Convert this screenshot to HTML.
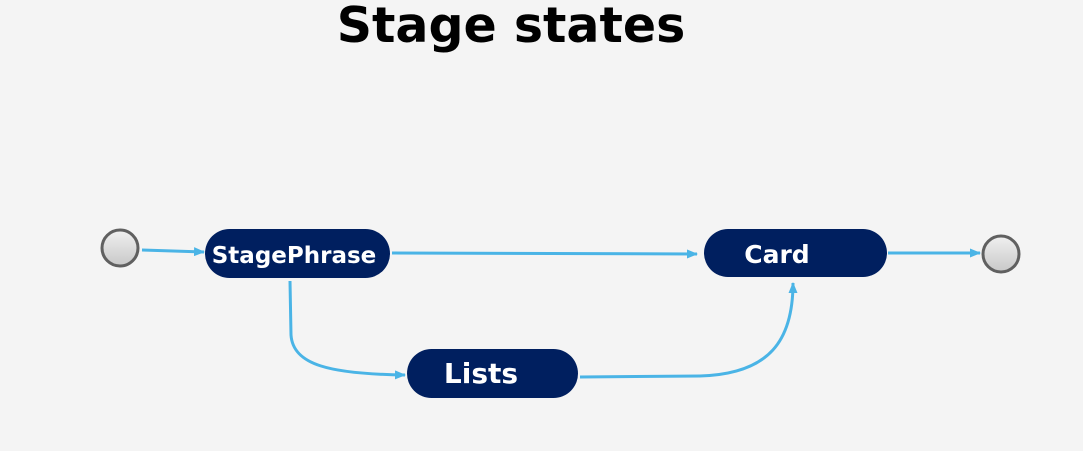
<!DOCTYPE html>
<html><head><style>
html,body{margin:0;padding:0;background:#f4f4f4;}
svg{display:block;}
</style></head><body>
<svg width="1083" height="451" viewBox="0 0 1083 451" xmlns="http://www.w3.org/2000/svg">
<defs>
<linearGradient id="g" x1="0" y1="0" x2="0" y2="1"><stop offset="0" stop-color="#f0f0f0"/><stop offset="1" stop-color="#c8c8c8"/></linearGradient>
<marker id="a" markerWidth="11" markerHeight="9" refX="10" refY="4.5" orient="auto" markerUnits="userSpaceOnUse"><path d="M0,0 L11,4.5 L0,9 Z" fill="#4ab4e6"/></marker>
</defs>
<rect width="1083" height="451" fill="#f4f4f4"/>
<text x="511" y="42" text-anchor="middle" font-family="DejaVu Sans, sans-serif" font-weight="bold" font-size="49" fill="#000">Stage states</text>
<g stroke="#4ab4e6" stroke-width="3" fill="none">
<path d="M142,250 L204,252" marker-end="url(#a)"/>
<path d="M392,253 L697,254" marker-end="url(#a)"/>
<path d="M888,253 L980,253" marker-end="url(#a)"/>
<path d="M290,281 L291,335 C293,365 330,374 405,375" marker-end="url(#a)"/>
<path d="M580,377 L700,376 C770,374 793,340 793,283" marker-end="url(#a)"/>
</g>
<circle cx="120" cy="248" r="18" fill="url(#g)" stroke="#606060" stroke-width="3"/>
<circle cx="1001" cy="254" r="18" fill="url(#g)" stroke="#606060" stroke-width="3"/>
<rect x="205" y="229" width="185" height="49" rx="24.5" fill="#001f5f"/>
<rect x="704" y="229" width="183" height="48" rx="24" fill="#001f5f"/>
<rect x="407" y="349" width="171" height="49" rx="24.5" fill="#001f5f"/>
<g font-family="DejaVu Sans, sans-serif" font-weight="bold" fill="#fff" text-anchor="middle">
<text x="294" y="263" font-size="23">StagePhrase</text>
<text x="777" y="263" font-size="25">Card</text>
<text x="481" y="383" font-size="28">Lists</text>
</g>
</svg>
</body></html>
